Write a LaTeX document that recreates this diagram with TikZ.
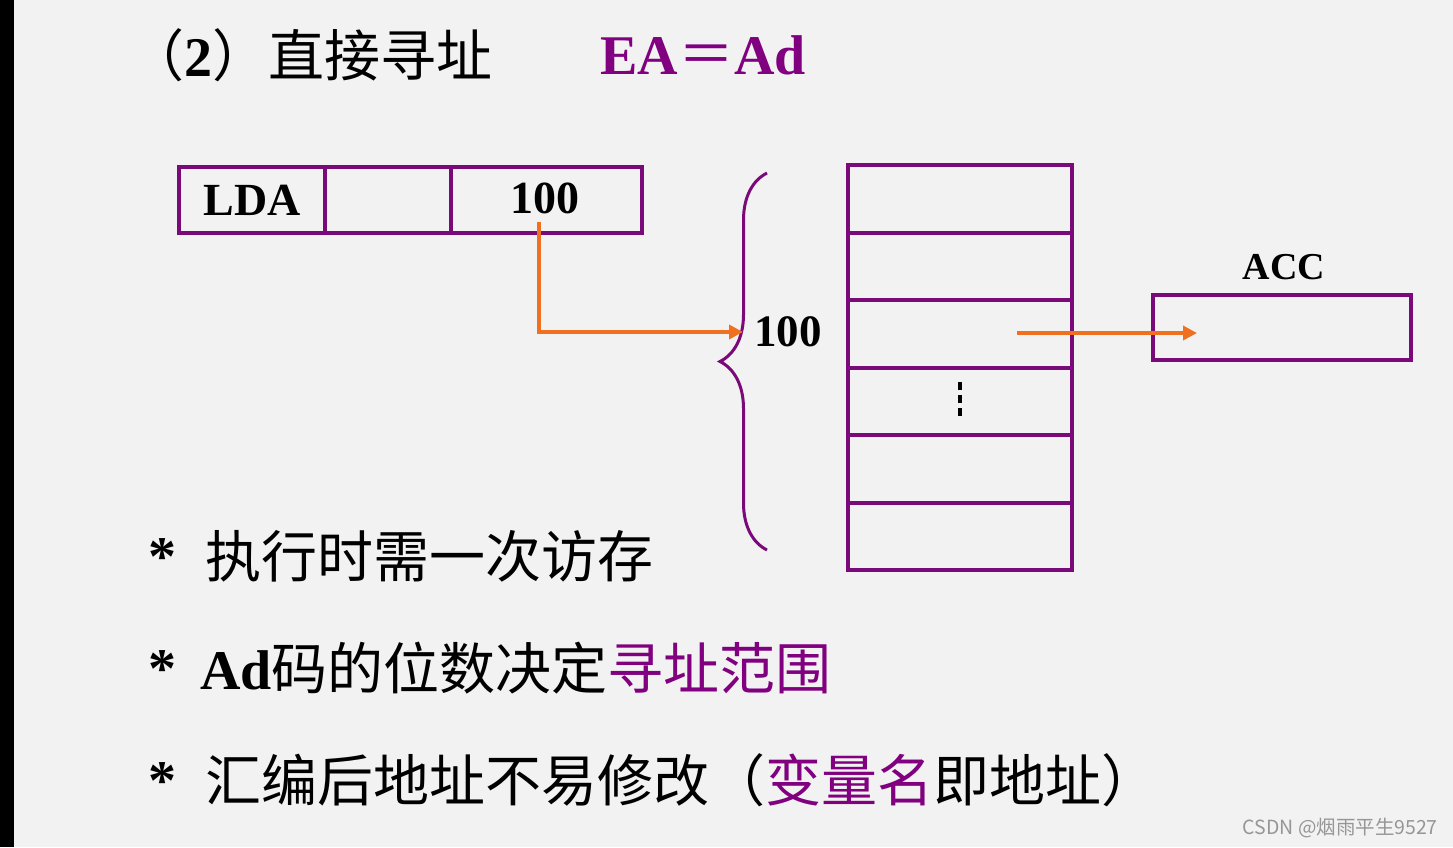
\documentclass[tikz,border=0pt]{standalone}
\usepackage{fontspec}
\setmainfont{Liberation Serif}
\newfontfamily\cjk{Noto Sans CJK SC}
\usetikzlibrary{arrows.meta,decorations.pathreplacing}
\definecolor{bg}{RGB}{242,242,242}
\definecolor{pur}{RGB}{122,10,122}
\definecolor{ptext}{RGB}{128,0,128}
\definecolor{org}{RGB}{240,112,32}
\definecolor{wm}{RGB}{150,150,150}
\begin{document}
\begin{tikzpicture}[x=1pt,y=-1pt,
  cell/.style={draw=pur,line width=4pt,inner sep=0pt,outer sep=0pt,minimum height=66pt},
  mcell/.style={draw=pur,line width=4pt,inner sep=0pt,outer sep=0pt,minimum width=224pt,minimum height=67.5pt},
  lbl/.style={inner sep=0pt,font=\fontsize{46}{50}\selectfont\bfseries},
  big/.style={inner sep=0pt,anchor=west,font=\cjk\fontsize{56}{60}\selectfont},
  star/.style={inner sep=0pt,font=\fontsize{56}{60}\selectfont\bfseries},
  oarrow/.style={draw=org,line width=4pt,-{Triangle[length=14pt,width=14pt]}}]
\useasboundingbox (0,0) rectangle (1453,847);
\fill[bg] (0,0) rectangle (1453,847);
\fill[black] (0,0) rectangle (14,847);

% title
\node[big] (title) at (128,55) {（{\rmfamily\bfseries 2}）直接寻址};
\node[inner sep=0pt,anchor=west,text=ptext,font=\fontsize{56}{60}\selectfont\bfseries] (ea) at (600,55) {EA{\cjk\mdseries ＝}Ad};

% instruction
\node[cell,minimum width=146pt] (lda) at (252,200) {};
\node[cell,minimum width=126pt] (mid) at (388,200) {};
\node[cell,minimum width=191pt] (addr) at (546.5,200) {};
\node[lbl] (ldat) at (252,200) {LDA};
\node[lbl] (addrt) at (545,198) {100};

% memory
\foreach \i in {1,...,6}{
  \node[mcell] (m\i) at (960,{165+67.5*(\i-0.5)}) {};
}
\draw[black,line width=4pt,dash pattern=on 8pt off 5pt] (m4.center) ++(0,-19) coordinate (d1) -- ++(0,38) coordinate (d2);

% brace
\coordinate (bt) at (767,173);
\coordinate (bb) at (767,550);
\draw[pur,line width=3pt,decorate,decoration={brace,amplitude=47pt}] (bb) -- (bt);
\node[lbl,font=\fontsize{45}{50}\selectfont\bfseries] (b100) at (788,332) {100};

% ACC
\node[draw=pur,line width=4pt,inner sep=0pt,outer sep=0pt,minimum width=258pt,minimum height=65pt] (acc) at (1282,327.5) {};
\node[lbl,font=\fontsize{38}{40}\selectfont\bfseries] (acct) at (1284,267) {ACC};

% arrows
\coordinate (a1) at (539,222);
\coordinate (bin) at (743,332);
\draw[oarrow] (a1) |- (bin);
\coordinate (mout) at (1017,333);
\coordinate (accin) at (1197,333);
\draw[oarrow] (mout) -- (accin);

% bullets
\node[star] (s1) at (162,557) {*};
\node[star] (s2) at (162,669) {*};
\node[star] (s3) at (162,781) {*};
\node[big] (t1) at (205,556) {执行时需一次访存};
\node[big] (t2) at (200,668) {{\rmfamily\bfseries Ad}码的位数决定{\color{ptext}寻址范围}};
\node[big] (t3) at (205,780) {汇编后地址不易修改（{\color{ptext}变量名}即地址）};

% watermark
\node[inner sep=0pt,anchor=east,text=wm,font=\cjk\fontsize{19.5}{22}\selectfont] (wmk) at (1438,828) {CSDN @烟雨平生9527};
\end{tikzpicture}
\end{document}
